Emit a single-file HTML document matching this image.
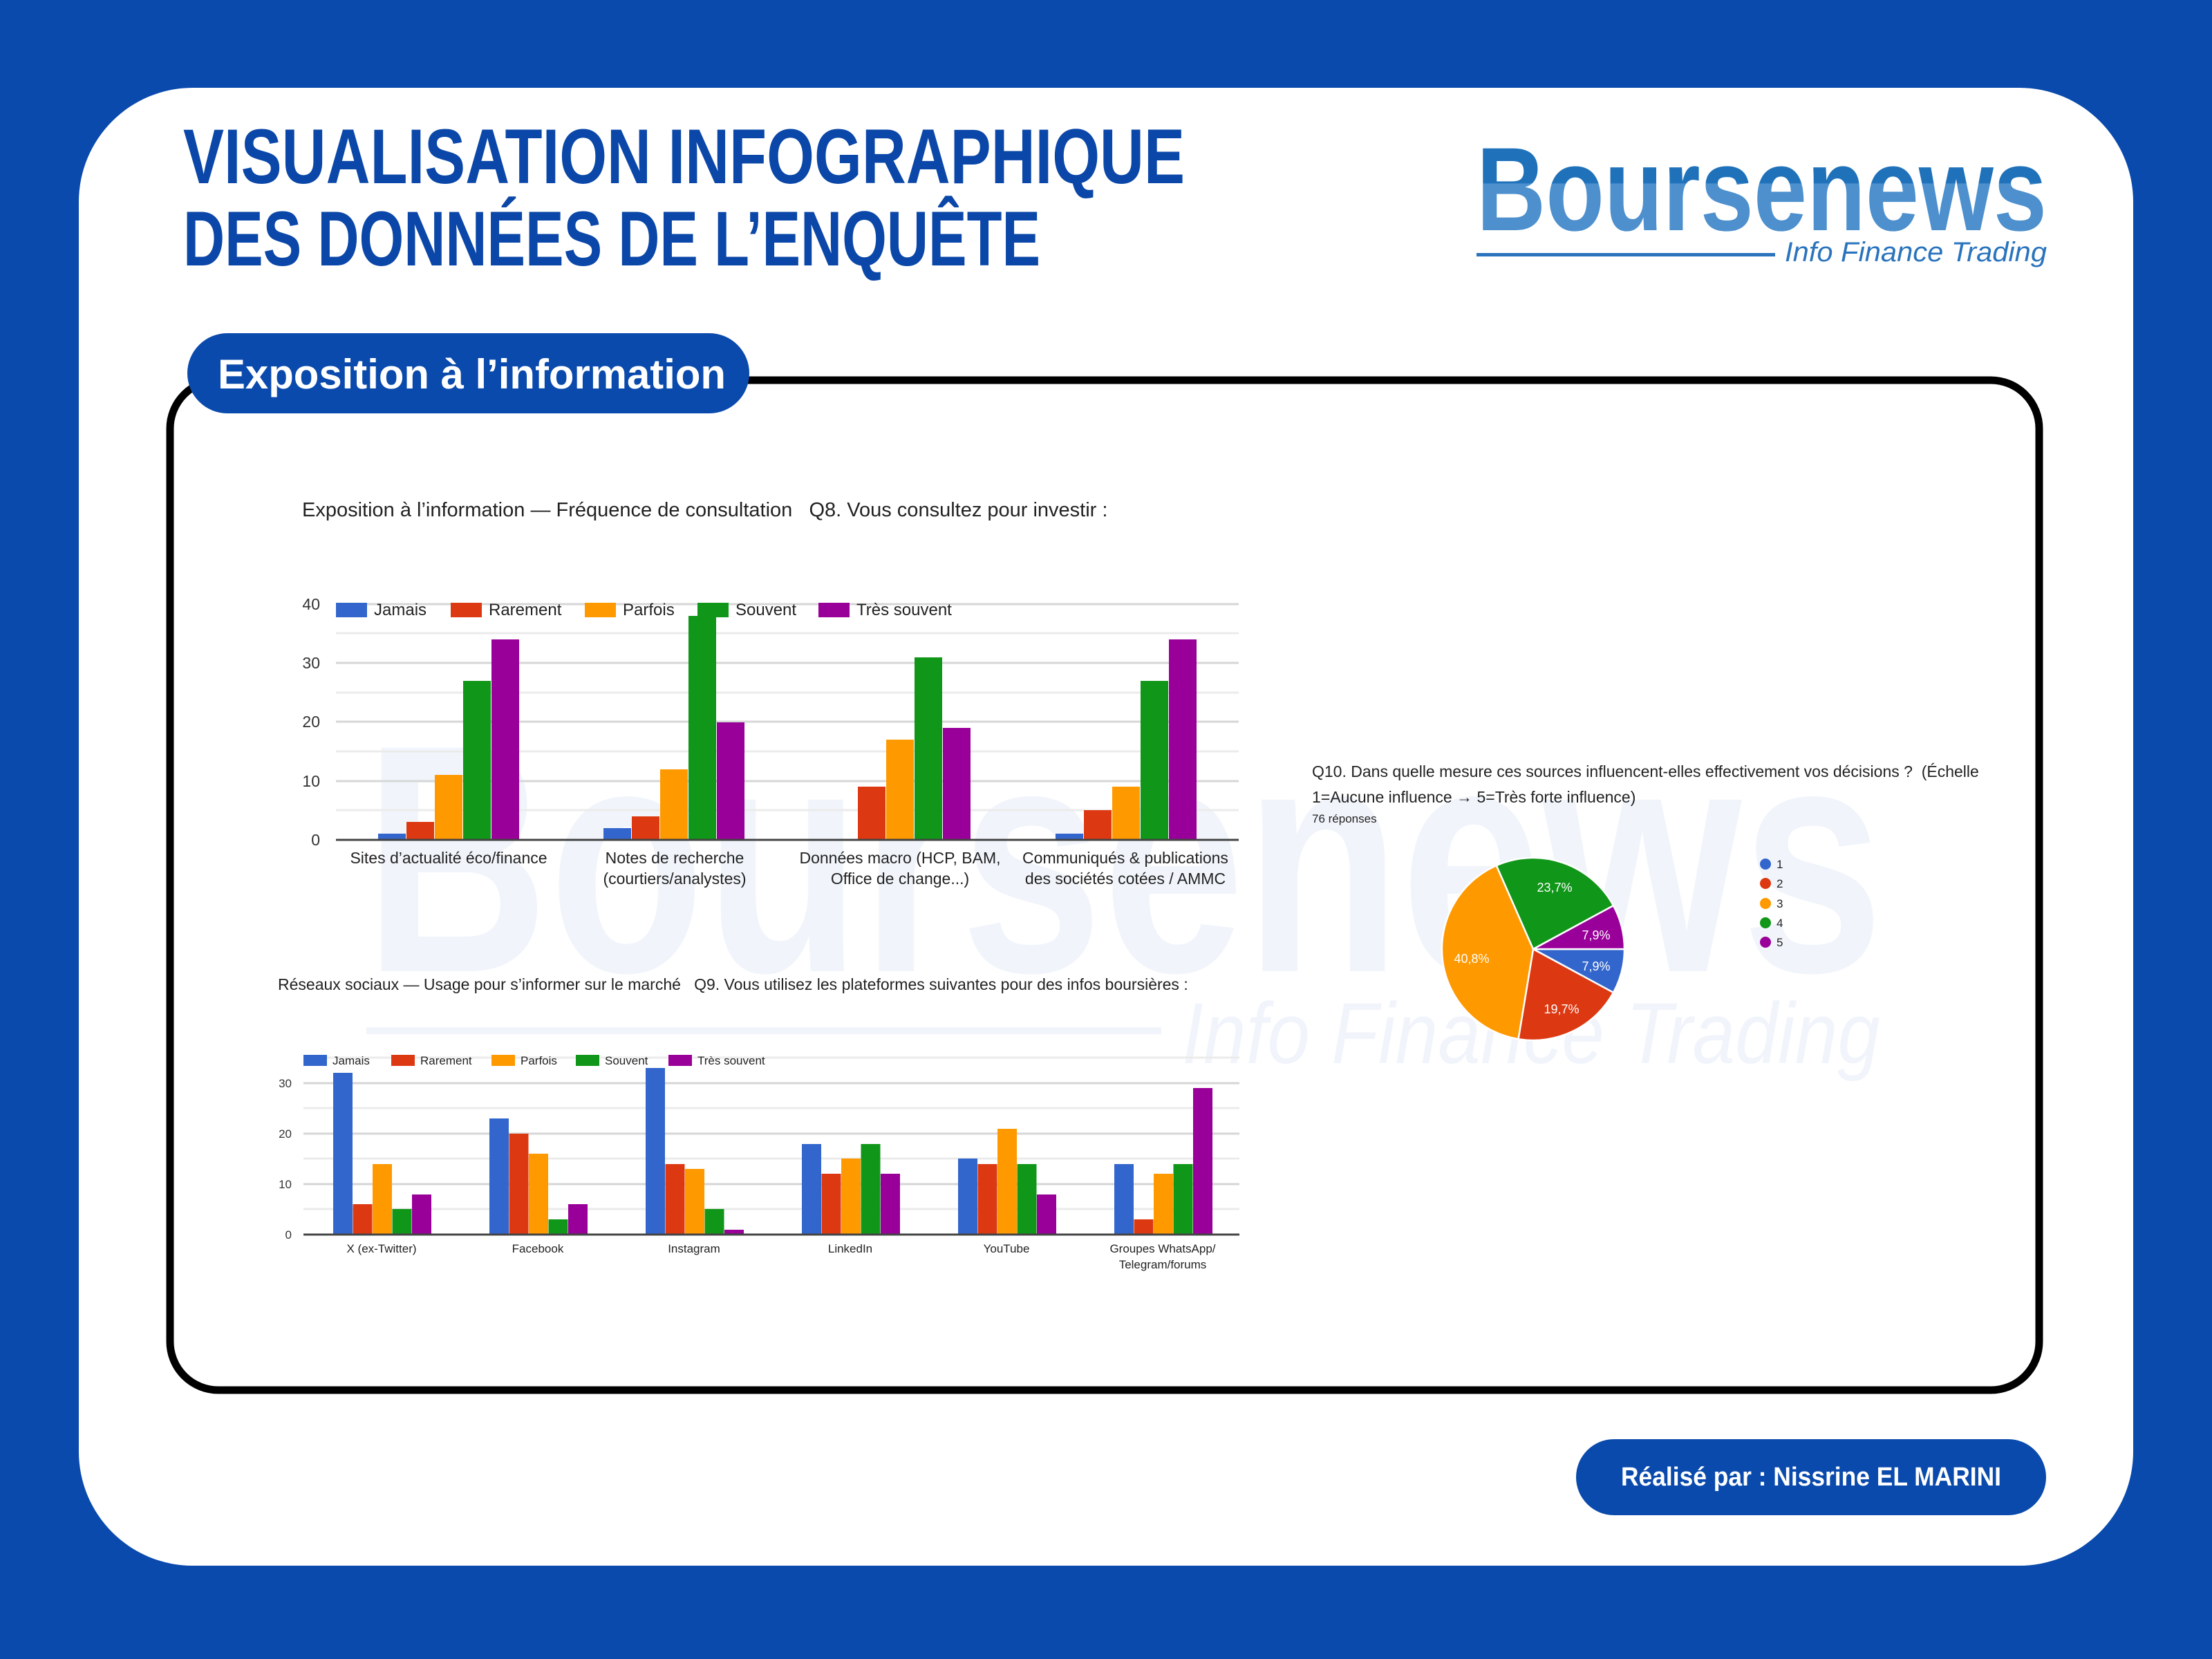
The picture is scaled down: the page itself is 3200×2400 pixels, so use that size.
<!DOCTYPE html>
<html><head><meta charset="utf-8"><style>html,body{margin:0;padding:0;background:#0a4aad}svg{display:block}</style></head>
<body>
<svg width="3200" height="2400" viewBox="0 0 3200 2400" xmlns="http://www.w3.org/2000/svg" font-family="Liberation Sans, sans-serif">
<defs>
<linearGradient id="lg" x1="0" y1="0" x2="0" y2="1">
<stop offset="0" stop-color="#1f72ba"/><stop offset="0.45" stop-color="#1f72ba"/><stop offset="0.46" stop-color="#4d90cd"/><stop offset="1" stop-color="#4d90cd"/>
</linearGradient>
</defs>
<rect width="3200" height="2400" fill="#0a4aad"/>
<rect x="114" y="127" width="2972" height="2138" rx="165" fill="#fff"/>
<text x="265" y="265" font-size="112" font-weight="bold" fill="#0b47a8" textLength="1449" lengthAdjust="spacingAndGlyphs">VISUALISATION INFOGRAPHIQUE</text>
<text x="265" y="384" font-size="112" font-weight="bold" fill="#0b47a8" textLength="1240" lengthAdjust="spacingAndGlyphs">DES DONNÉES DE L’ENQUÊTE</text>
<text x="2136" y="333" font-size="172" font-weight="bold" fill="url(#lg)" textLength="825" lengthAdjust="spacingAndGlyphs">Boursenews</text>
<rect x="2136" y="366" width="432" height="5" fill="#2a74bd"/>
<text x="2582" y="378" font-size="40" font-style="italic" fill="#2a74bd" textLength="379" lengthAdjust="spacingAndGlyphs">Info Finance Trading</text>
<text x="527" y="1405" font-size="470" font-weight="bold" fill="#f1f5fb" textLength="2198" lengthAdjust="spacingAndGlyphs">Boursenews</text>
<rect x="530" y="1486" width="1150" height="10" fill="#f1f5fb"/>
<text x="1710" y="1538" font-size="125" font-style="italic" fill="#f1f5fb" textLength="1010" lengthAdjust="spacingAndGlyphs">Info Finance Trading</text>
<rect x="246" y="550" width="2704" height="1461" rx="70" fill="none" stroke="#000" stroke-width="11"/>
<rect x="271" y="482" width="813" height="116" rx="58" fill="#0a4aad"/>
<text x="315" y="562" font-size="60" font-weight="bold" fill="#fff" textLength="735" lengthAdjust="spacingAndGlyphs">Exposition à l’information</text>
<rect x="2280" y="2082" width="680" height="110" rx="55" fill="#0a4aad"/>
<text x="2620" y="2149" font-size="38" font-weight="bold" fill="#fff" text-anchor="middle" textLength="550" lengthAdjust="spacingAndGlyphs">Réalisé par : Nissrine EL MARINI</text>

<text x="437" y="747" font-size="29" fill="#222">Exposition à l’information — Fréquence de consultation&#160;&#160;&#160;Q8. Vous consultez pour investir :</text>
<g stroke="#ebebeb" stroke-width="3">
<line x1="486" x2="1792" y1="1172" y2="1172"/><line x1="486" x2="1792" y1="1002" y2="1002"/><line x1="486" x2="1792" y1="1087" y2="1087"/><line x1="486" x2="1792" y1="916" y2="916"/>
</g>
<g stroke="#d6d6d6" stroke-width="3">
<line x1="486" x2="1792" y1="874" y2="874"/><line x1="486" x2="1792" y1="959" y2="959"/><line x1="486" x2="1792" y1="1044" y2="1044"/><line x1="486" x2="1792" y1="1130" y2="1130"/>
</g>
<g font-size="23" fill="#333" text-anchor="end">
<text x="463" y="882">40</text><text x="463" y="967">30</text><text x="463" y="1052">20</text><text x="463" y="1138">10</text><text x="463" y="1223">0</text>
</g>
<g>
<rect x="547" y="1206" width="40" height="9" fill="#3366cc"/><rect x="588" y="1189" width="40" height="26" fill="#dc3912"/><rect x="629" y="1121" width="40" height="94" fill="#ff9900"/><rect x="670" y="985" width="40" height="230" fill="#109618"/><rect x="711" y="925" width="40" height="290" fill="#990099"/>
<rect x="873" y="1198" width="40" height="17" fill="#3366cc"/><rect x="914" y="1181" width="40" height="34" fill="#dc3912"/><rect x="955" y="1113" width="40" height="102" fill="#ff9900"/><rect x="996" y="891" width="40" height="324" fill="#109618"/><rect x="1037" y="1045" width="40" height="170" fill="#990099"/>
<rect x="1241" y="1138" width="40" height="77" fill="#dc3912"/><rect x="1282" y="1070" width="40" height="145" fill="#ff9900"/><rect x="1323" y="951" width="40" height="264" fill="#109618"/><rect x="1364" y="1053" width="40" height="162" fill="#990099"/>
<rect x="1527" y="1206" width="40" height="9" fill="#3366cc"/><rect x="1568" y="1172" width="40" height="43" fill="#dc3912"/><rect x="1609" y="1138" width="40" height="77" fill="#ff9900"/><rect x="1650" y="985" width="40" height="230" fill="#109618"/><rect x="1691" y="925" width="40" height="290" fill="#990099"/>
</g>
<line x1="486" x2="1792" y1="1215" y2="1215" stroke="#444" stroke-width="3"/>
<g font-size="24" fill="#222">
<rect x="486" y="872" width="45" height="21" fill="#3366cc"/><text x="541" y="890">Jamais</text>
<rect x="652" y="872" width="45" height="21" fill="#dc3912"/><text x="707" y="890">Rarement</text>
<rect x="846" y="872" width="45" height="21" fill="#ff9900"/><text x="901" y="890">Parfois</text>
<rect x="1009" y="872" width="45" height="21" fill="#109618"/><text x="1064" y="890">Souvent</text>
<rect x="1184" y="872" width="45" height="21" fill="#990099"/><text x="1239" y="890">Très souvent</text>
</g>
<g font-size="23" fill="#222" text-anchor="middle">
<text x="649" y="1249">Sites d’actualité éco/finance</text>
<text x="976" y="1249">Notes de recherche</text><text x="976" y="1279">(courtiers/analystes)</text>
<text x="1302" y="1249">Données macro (HCP, BAM,</text><text x="1302" y="1279">Office de change...)</text>
<text x="1628" y="1249">Communiqués &amp; publications</text><text x="1628" y="1279">des sociétés cotées / AMMC</text>
</g>

<text x="402" y="1432" font-size="23" fill="#222">Réseaux sociaux — Usage pour s’informer sur le marché&#160;&#160;&#160;Q9. Vous utilisez les plateformes suivantes pour des infos boursières :</text>
<g stroke="#ebebeb" stroke-width="3">
<line x1="439" x2="1793" y1="1530" y2="1530"/><line x1="439" x2="1793" y1="1603" y2="1603"/><line x1="439" x2="1793" y1="1676" y2="1676"/><line x1="439" x2="1793" y1="1749" y2="1749"/>
</g>
<g stroke="#d6d6d6" stroke-width="3">
<line x1="439" x2="1793" y1="1567" y2="1567"/><line x1="439" x2="1793" y1="1640" y2="1640"/><line x1="439" x2="1793" y1="1713" y2="1713"/>
</g>
<g font-size="17" fill="#333" text-anchor="end">
<text x="422" y="1573">30</text><text x="422" y="1646">20</text><text x="422" y="1719">10</text><text x="422" y="1792">0</text>
</g>
<g>
<rect x="482" y="1552" width="28" height="234" fill="#3366cc"/><rect x="510.5" y="1742" width="28" height="44" fill="#dc3912"/><rect x="539" y="1684" width="28" height="102" fill="#ff9900"/><rect x="567.5" y="1749" width="28" height="37" fill="#109618"/><rect x="596" y="1728" width="28" height="58" fill="#990099"/>
<rect x="708" y="1618" width="28" height="168" fill="#3366cc"/><rect x="736.5" y="1640" width="28" height="146" fill="#dc3912"/><rect x="765" y="1669" width="28" height="117" fill="#ff9900"/><rect x="793.5" y="1764" width="28" height="22" fill="#109618"/><rect x="822" y="1742" width="28" height="44" fill="#990099"/>
<rect x="934" y="1545" width="28" height="241" fill="#3366cc"/><rect x="962.5" y="1684" width="28" height="102" fill="#dc3912"/><rect x="991" y="1691" width="28" height="95" fill="#ff9900"/><rect x="1019.5" y="1749" width="28" height="37" fill="#109618"/><rect x="1048" y="1779" width="28" height="7" fill="#990099"/>
<rect x="1160" y="1655" width="28" height="131" fill="#3366cc"/><rect x="1188.5" y="1698" width="28" height="88" fill="#dc3912"/><rect x="1217" y="1676" width="28" height="110" fill="#ff9900"/><rect x="1245.5" y="1655" width="28" height="131" fill="#109618"/><rect x="1274" y="1698" width="28" height="88" fill="#990099"/>
<rect x="1386" y="1676" width="28" height="110" fill="#3366cc"/><rect x="1414.5" y="1684" width="28" height="102" fill="#dc3912"/><rect x="1443" y="1633" width="28" height="153" fill="#ff9900"/><rect x="1471.5" y="1684" width="28" height="102" fill="#109618"/><rect x="1500" y="1728" width="28" height="58" fill="#990099"/>
<rect x="1612" y="1684" width="28" height="102" fill="#3366cc"/><rect x="1640.5" y="1764" width="28" height="22" fill="#dc3912"/><rect x="1669" y="1698" width="28" height="88" fill="#ff9900"/><rect x="1697.5" y="1684" width="28" height="102" fill="#109618"/><rect x="1726" y="1574" width="28" height="212" fill="#990099"/>
</g>
<line x1="439" x2="1793" y1="1786" y2="1786" stroke="#444" stroke-width="3"/>
<g font-size="17" fill="#222">
<rect x="439" y="1526" width="34" height="16" fill="#3366cc"/><text x="481" y="1540">Jamais</text>
<rect x="566" y="1526" width="34" height="16" fill="#dc3912"/><text x="608" y="1540">Rarement</text>
<rect x="711" y="1526" width="34" height="16" fill="#ff9900"/><text x="753" y="1540">Parfois</text>
<rect x="833" y="1526" width="34" height="16" fill="#109618"/><text x="875" y="1540">Souvent</text>
<rect x="967" y="1526" width="34" height="16" fill="#990099"/><text x="1009" y="1540">Très souvent</text>
</g>
<g font-size="17" fill="#222" text-anchor="middle">
<text x="552" y="1812">X (ex-Twitter)</text>
<text x="778" y="1812">Facebook</text>
<text x="1004" y="1812">Instagram</text>
<text x="1230" y="1812">LinkedIn</text>
<text x="1456" y="1812">YouTube</text>
<text x="1682" y="1812">Groupes WhatsApp/</text><text x="1682" y="1835">Telegram/forums</text>
</g>

<text x="1898" y="1124" font-size="23" fill="#222">Q10. Dans quelle mesure ces sources influencent-elles effectivement vos décisions ?&#160;&#160;(Échelle</text>
<text x="1898" y="1161" font-size="23" fill="#222">1=Aucune influence → 5=Très forte influence)</text>
<text x="1898" y="1190" font-size="17" fill="#222">76 réponses</text>
<g stroke="#fff" stroke-width="2.5">
<path d="M2218 1373 L2350 1373 A132 132 0 0 1 2334 1436 Z" fill="#3366cc"/>
<path d="M2218 1373 L2334.0 1435.9 A132 132 0 0 1 2196.5 1503.2 Z" fill="#dc3912"/>
<path d="M2218 1373 L2196.5 1503.2 A132 132 0 0 1 2164.8 1252.1 Z" fill="#ff9900"/>
<path d="M2218 1373 L2164.8 1252.1 A132 132 0 0 1 2334.0 1310.1 Z" fill="#109618"/>
<path d="M2218 1373 L2334.0 1310.1 A132 132 0 0 1 2350 1373 Z" fill="#990099"/>
</g>
<g font-size="18" fill="#fff" text-anchor="middle">
<text x="2249" y="1290">23,7%</text>
<text x="2309" y="1359">7,9%</text>
<text x="2309" y="1404">7,9%</text>
<text x="2129" y="1393">40,8%</text>
<text x="2259" y="1466">19,7%</text>
</g>
<g font-size="17" fill="#222">
<circle cx="2554" cy="1250" r="8" fill="#3366cc"/><text x="2570" y="1256">1</text>
<circle cx="2554" cy="1278" r="8" fill="#dc3912"/><text x="2570" y="1284">2</text>
<circle cx="2554" cy="1307" r="8" fill="#ff9900"/><text x="2570" y="1313">3</text>
<circle cx="2554" cy="1335" r="8" fill="#109618"/><text x="2570" y="1341">4</text>
<circle cx="2554" cy="1363" r="8" fill="#990099"/><text x="2570" y="1369">5</text>
</g>
</svg>
</body></html>
